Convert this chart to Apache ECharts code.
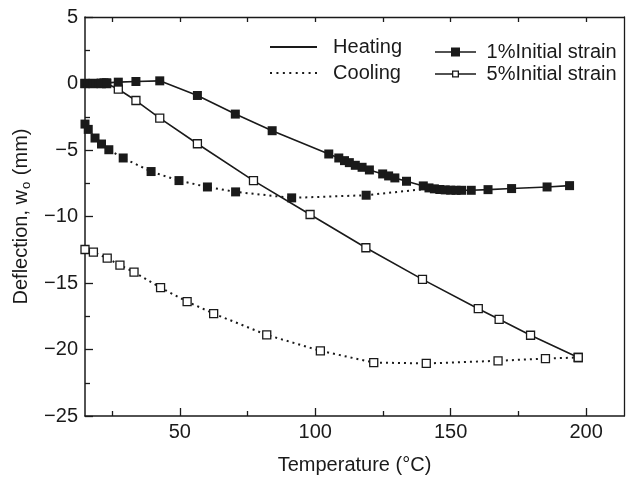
<!DOCTYPE html>
<html>
<head>
<meta charset="utf-8">
<script src="https://cdn.jsdelivr.net/npm/echarts@6/dist/echarts.min.js"></script>
<style>
  html, body { margin: 0; padding: 0; background: #fff; }
  #chart { width: 627px; height: 480px; }
</style>
</head>
<body>
<div id="chart"></div>
<script>
// temperatures (C) and deflections (mm)
const heat1T = [15, 16, 17, 18, 19, 20, 21, 22, 23, 27.3, 33.8, 42.6, 56.5, 70.5, 84.1, 105, 108.7, 110.8, 112.6, 114.8, 117.3, 120, 124.9, 127.1, 129.4, 133.7, 139.9, 142, 144, 146, 148, 150, 152, 154, 157.6, 163.8, 172.5, 185.6, 193.9];
const heat1W = [0, 0, 0, 0, 0, 0, 0.02, 0.05, 0.05, 0.1, 0.15, 0.2, -0.9, -2.3, -3.55, -5.3, -5.6, -5.8, -5.95, -6.15, -6.3, -6.5, -6.8, -6.95, -7.1, -7.35, -7.7, -7.85, -7.92, -7.97, -8.0, -8.02, -8.03, -8.03, -8.03, -7.98, -7.9, -7.78, -7.68];

const cool1T = [15, 16.2, 18.7, 21.1, 23.8, 29.1, 39.4, 49.7, 60.2, 70.6, 91.3, 118.8, 142];
const cool1W = [-3.05, -3.45, -4.1, -4.55, -4.98, -5.6, -6.62, -7.3, -7.78, -8.15, -8.6, -8.4, -7.9];

const heat5T = [15, 18, 21, 23, 27.3, 33.8, 42.6, 56.5, 77.2, 98.1, 118.7, 139.6, 160.2, 167.9, 179.5, 197.1];
const heat5W = [0, 0, 0, 0, -0.43, -1.28, -2.6, -4.53, -7.3, -9.85, -12.35, -14.73, -16.93, -17.73, -18.93, -20.6];

const cool5T = [15, 18.1, 23.2, 27.9, 33.1, 42.9, 52.7, 62.5, 82.1, 101.9, 121.6, 141, 167.5, 185, 197.1];
const cool5W = [-12.48, -12.68, -13.13, -13.65, -14.18, -15.35, -16.4, -17.3, -18.9, -20.1, -20.98, -21.05, -20.85, -20.68, -20.6];

const majorTicksX = [50, 100, 150, 200];
const minorTicksX = [25, 75, 125, 175];

const ink = '#1a1a1a';
const font = 'Liberation Sans, Arial, sans-serif';

function pairs(t, w) {
  return t.map((v, i) => [v, w[i]]);
}

// legend icons (paths sized to exactly itemWidth x itemHeight)
let dots = '';
for (let i = 0; i < 8; i++) dots += 'M' + (i * 6.43) + ',0h2v2h-2z';
const iconSolid = 'path://M0,0H47V2H0Z';
const iconDotted = 'path://' + dots;
const iconFilled = 'path://M0,3.7H41V5.3H0Z M16,0H25V9H16Z';
const iconOpen = 'path://M0,2.7H17V4.3H0Z M24,2.7H41V4.3H24Z M17,0H24V7H17Z M18.3,1.3V5.7H22.7V1.3Z';

const solidLine = { color: ink, width: 1.6, type: 'solid' };
const dotLine = { color: ink, width: 2, type: [2, 4] };
const filledSq = { symbol: 'rect', symbolSize: 9, itemStyle: { color: ink } };
const openSq = { symbol: 'rect', symbolSize: 8, itemStyle: { color: '#fff', borderColor: ink, borderWidth: 1.3 } };

// last cooling point of 1% just joins the heating curve, no marker there
const cool1Data = pairs(cool1T, cool1W);
cool1Data[cool1Data.length - 1] = { value: cool1Data[cool1Data.length - 1], symbol: 'none' };

const chart = echarts.init(document.getElementById('chart'), null, { renderer: 'canvas' });

const legendText = { fontSize: 20, color: ink, fontFamily: font };
const noLine = { show: false, onZero: false };

chart.setOption({
  animation: false,
  backgroundColor: '#fff',
  textStyle: { fontFamily: font, color: ink },
  grid: { left: 85, right: 3, top: 17, bottom: 63 },
  legend: [
    {
      data: [
        { name: 'Heating', icon: iconSolid },
        { name: 'Cooling', icon: iconDotted }
      ],
      orient: 'vertical',
      left: 270, top: 37,
      padding: 0,
      itemWidth: 47, itemHeight: 2, itemGap: 6,
      selectedMode: false,
      formatter: n => '  ' + n,
      textStyle: legendText
    },
    {
      data: [
        { name: '1%Initial strain', icon: iconFilled, itemHeight: 9 },
        { name: '5%Initial strain', icon: iconOpen, itemHeight: 7 }
      ],
      orient: 'vertical',
      left: 435, top: 42,
      padding: 0,
      itemWidth: 41, itemHeight: 9, itemGap: 2,
      selectedMode: false,
      formatter: n => ' ' + n,
      textStyle: legendText
    }
  ],
  xAxis: [
    {
      type: 'value', min: 15, max: 214,
      name: 'Temperature (°C)', nameLocation: 'middle', nameGap: 39,
      nameTextStyle: { fontSize: 20, color: ink, fontFamily: font },
      axisLine: { show: true, onZero: false, lineStyle: { color: ink, width: 1.5 } },
      axisTick: { show: true, inside: true, length: 8, customValues: majorTicksX, lineStyle: { color: ink, width: 1.3 } },
      axisLabel: { customValues: majorTicksX, fontSize: 20, color: ink, margin: 6, fontFamily: font },
      splitLine: { show: false }
    },
    {
      type: 'value', min: 15, max: 214, position: 'bottom',
      axisLine: noLine,
      axisTick: { show: true, inside: true, length: 5, customValues: minorTicksX, lineStyle: { color: ink, width: 1.3 } },
      axisLabel: { show: false },
      splitLine: { show: false }
    },
    {
      type: 'value', min: 15, max: 214, position: 'top',
      axisLine: { show: true, onZero: false, lineStyle: { color: ink, width: 1.3 } },
      axisTick: { show: true, inside: true, length: 5, customValues: minorTicksX.concat(majorTicksX), lineStyle: { color: ink, width: 1.3 } },
      axisLabel: { show: false },
      splitLine: { show: false }
    }
  ],
  yAxis: [
    {
      type: 'value', min: -25, max: 5, interval: 5,
      name: '{t|Deflection, w}{s|o}{t| (mm)}', nameLocation: 'middle', nameGap: 52, nameRotate: 90,
      nameTextStyle: {
        color: ink, fontFamily: font,
        rich: {
          t: { fontSize: 20, color: ink, fontFamily: font },
          s: { fontSize: 13, color: ink, fontFamily: font, padding: [10, 1, 0, 1] }
        }
      },
      axisLine: { show: true, onZero: false, lineStyle: { color: ink, width: 1.5 } },
      axisTick: { show: true, inside: true, length: 8, lineStyle: { color: ink, width: 1.3 } },
      minorTick: { show: true, splitNumber: 2, length: 5, lineStyle: { color: ink, width: 1.3 } },
      axisLabel: { fontSize: 20, color: ink, margin: 7, fontFamily: font, formatter: v => v < 0 ? '\u2212' + (-v) : String(v) },
      splitLine: { show: false }
    },
    {
      type: 'value', min: -25, max: 5, position: 'right',
      axisLine: { show: true, onZero: false, lineStyle: { color: ink, width: 1.3 } },
      axisTick: { show: false },
      axisLabel: { show: false },
      splitLine: { show: false }
    }
  ],
  series: [
    // legend-only entries
    { name: 'Heating', type: 'line', data: [], symbol: 'none', lineStyle: solidLine, itemStyle: { color: ink } },
    { name: 'Cooling', type: 'line', data: [], symbol: 'none', lineStyle: dotLine, itemStyle: { color: ink } },
    { name: '1%Initial strain', type: 'line', data: [], symbol: 'none', itemStyle: { color: ink } },
    { name: '5%Initial strain', type: 'line', data: [], symbol: 'none', itemStyle: { color: ink } },
    // data
    Object.assign({ name: '5% cooling', type: 'line', data: pairs(cool5T, cool5W), lineStyle: dotLine, z: 2 }, openSq),
    Object.assign({ name: '5% heating', type: 'line', data: pairs(heat5T, heat5W), lineStyle: solidLine, z: 2 }, openSq),
    Object.assign({ name: '1% cooling', type: 'line', data: cool1Data, lineStyle: dotLine, z: 3 }, filledSq),
    Object.assign({ name: '1% heating', type: 'line', data: pairs(heat1T, heat1W), lineStyle: solidLine, z: 3 }, filledSq)
  ]
});
</script>
</body>
</html>
